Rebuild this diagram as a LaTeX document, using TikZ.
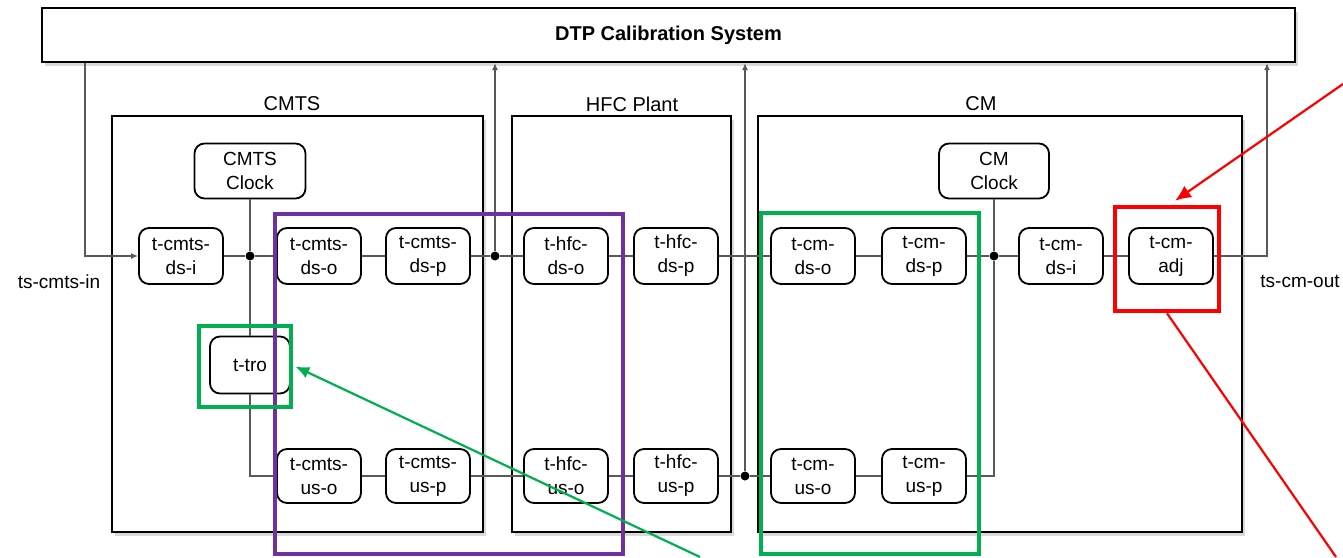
\documentclass[tikz,border=0pt]{standalone}
\usepackage{fontspec}
\setmainfont{Liberation Sans}
\usetikzlibrary{arrows.meta,shadows}
\definecolor{hlpurple}{RGB}{112,48,160}
\definecolor{hlgreen}{RGB}{0,176,80}
\definecolor{hlred}{RGB}{255,0,0}
\begin{document}
\begin{tikzpicture}[x=1pt,y=-1pt,
  every node/.style={inner sep=0pt},
  grp/.style={draw, line width=2.2pt, fill=white, drop shadow={shadow xshift=3pt,shadow yshift=-4pt,opacity=0.3}},
  blk/.style={draw, line width=1.8pt, rounded corners=10pt, fill=white, minimum width=84pt, minimum height=56pt, align=center, font=\fontsize{19}{24}\selectfont},
  wire/.style={draw=black!65, line width=1.4pt},
  tip/.style={-{Latex[length=7pt,width=6pt]}},
  dot/.style={circle, fill=black, minimum size=9pt, inner sep=0pt},
  hl/.style={draw=#1, line width=4.5pt, inner sep=0pt},
  lbl/.style={font=\fontsize{20}{24}\selectfont},
  io/.style={font=\fontsize{19}{23}\selectfont},
  callout/.style={line width=2.2pt}
]
\useasboundingbox (0,0) rectangle (1343,557);
% top system box
\node[grp, minimum width=1253pt, minimum height=54pt, font=\bfseries\fontsize{20}{24}\selectfont] (dtp) at (668.5,35) {DTP Calibration System};
% group boxes
\node[grp, minimum width=371pt, minimum height=416pt] (cmts) at (297.5,324) {};
\node[grp, minimum width=219pt, minimum height=416pt] (hfc) at (621.5,324) {};
\node[grp, minimum width=484pt, minimum height=416pt] (cm) at (1000,324) {};
\node[lbl] (cmtsL) at (292,104) {CMTS};
\node[lbl] (hfcL) at (632,104) {HFC Plant};
\node[lbl] (cmL) at (981,104) {CM};
% downstream row
\node[blk] (cmtsdsi) at (181,256) {t-cmts-\\ds-i};
\node[blk] (cmtsdso) at (319,256) {t-cmts-\\ds-o};
\node[blk] (cmtsdsp) at (428,256) {t-cmts-\\ds-p};
\node[blk] (hfcdso) at (566,256) {t-hfc-\\ds-o};
\node[blk] (hfcdsp) at (676,256) {t-hfc-\\ds-p};
\node[blk] (cmdso) at (813,256) {t-cm-\\ds-o};
\node[blk] (cmdsp) at (924,256) {t-cm-\\ds-p};
\node[blk] (cmdsi) at (1061,256) {t-cm-\\ds-i};
\node[blk] (cmadj) at (1171,256) {t-cm-\\adj};
% clocks and tro
\node[blk, minimum width=111pt, minimum height=55pt] (cmtsclk) at (250,171) {CMTS\\Clock};
\node[blk, minimum width=110pt, minimum height=55pt] (cmclk) at (994,171) {CM\\Clock};
\node[blk, minimum width=80pt, minimum height=57pt] (tro) at (250,365) {t-tro};
% upstream row
\node[blk, minimum height=54pt] (cmtsuso) at (319,476) {t-cmts-\\us-o};
\node[blk, minimum height=54pt] (cmtsusp) at (428,476) {t-cmts-\\us-p};
\node[blk, minimum height=54pt] (hfcuso) at (566,476) {t-hfc-\\us-o};
\node[blk, minimum height=54pt] (hfcusp) at (676,476) {t-hfc-\\us-p};
\node[blk, minimum height=54pt] (cmuso) at (813,476) {t-cm-\\us-o};
\node[blk, minimum height=54pt] (cmusp) at (924,476) {t-cm-\\us-p};
% junctions
\node[dot] (d1) at (250,256) {};
\node[dot] (d2) at (495,256) {};
\node[dot] (d3) at (994,256) {};
\node[dot] (d4) at (745,476) {};
\coordinate (fbx) at (85,256);
\coordinate (outc) at (1267,256);
\coordinate (bl) at (250,476);
\coordinate (br) at (994,476);
% io labels
\node[io] (tin) at (59,282) {ts-cmts-in};
\node[io] (tout) at (1300,281) {ts-cm-out};
% wires
\draw[wire,tip] (dtp.south -| fbx) -- (fbx) -- (cmtsdsi);
\draw[wire] (cmtsdsi) -- (d1) -- (cmtsdso) -- (cmtsdsp) -- (d2) -- (hfcdso) -- (hfcdsp) -- (cmdso) -- (cmdsp) -- (d3) -- (cmdsi) -- (cmadj);
\draw[wire,tip] (cmadj) -- (outc) -- (outc |- dtp.south);
\draw[wire,tip] (d2) -- (d2 |- dtp.south);
\draw[wire,tip] (d4) -- (d4 |- dtp.south);
\draw[wire] (cmtsclk) -- (d1) -- (tro);
\draw[wire] (tro) -- (bl) -- (cmtsuso) -- (cmtsusp) -- (hfcuso) -- (hfcusp) -- (d4) -- (cmuso) -- (cmusp) -- (br) -- (d3) -- (cmclk);
% highlight boxes
\node[hl=hlpurple, minimum width=348pt, minimum height=340pt] (hlP) at (449,384) {};
\node[hl=hlgreen, minimum width=92pt, minimum height=81pt] (hlT) at (245,366.5) {};
\node[hl=hlgreen, minimum width=218pt, minimum height=341pt] (hlC) at (870,383.5) {};
\node[hl=hlred, minimum width=104pt, minimum height=104pt] (hlR) at (1167,259) {};
% callouts
\coordinate (ra) at (1343,84);
\coordinate (rb) at (1336,557);
\coordinate (ga) at (700,557);
\draw[callout, hlred, -{Latex[length=16pt,width=14pt]}] (ra) -- ([xshift=8pt,yshift=4pt]hlR.north);
\draw[callout, hlred] (hlR.south) -- (rb);
\draw[callout, hlgreen, -{Latex[length=14pt,width=12pt]}] (ga) -- ([xshift=2pt]hlT.east);
\end{tikzpicture}
\end{document}
